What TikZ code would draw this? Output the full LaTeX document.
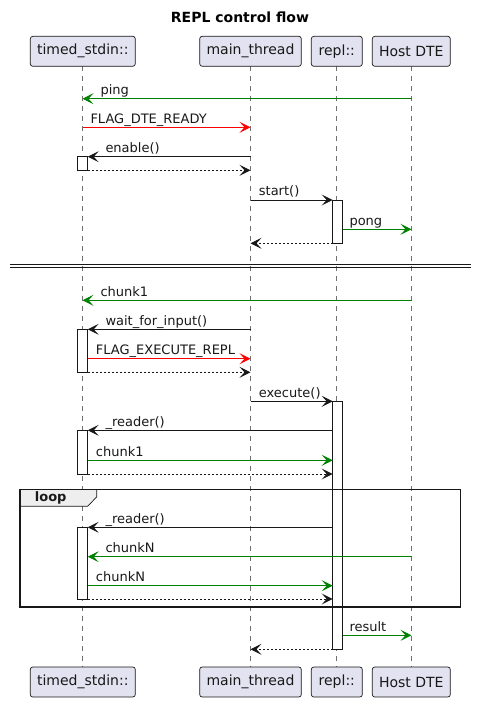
\documentclass[tikz,border=0pt]{standalone}
\usepackage{fontspec}
\setmainfont{DejaVu Sans}
\usetikzlibrary{arrows.meta}
\definecolor{pbox}{HTML}{E2E2F0}
\definecolor{ink}{HTML}{181818}
\definecolor{grn}{HTML}{008000}
\definecolor{rd}{HTML}{FF0000}
\definecolor{life}{HTML}{707070}
\definecolor{tabfill}{HTML}{EEEEEE}
\tikzset{
  participant/.style={draw=ink, fill=pbox, rounded corners=2.5pt, line width=0.7pt,
    minimum height=30pt, inner sep=0pt, font=\fontsize{14}{16}\selectfont, text=ink},
  lifeline/.style={draw=life, line width=0.7pt, dash pattern=on 5pt off 5pt},
  msg/.style={draw=ink, line width=0.9pt, -{Stealth[length=11pt, width=11pt, inset=5pt]}},
  ret/.style={msg, dash pattern=on 2pt off 2pt},
  gmsg/.style={msg, draw=grn, -{Stealth[length=11pt, width=11pt, inset=5pt, fill=grn]}},
  rmsg/.style={msg, draw=rd, -{Stealth[length=11pt, width=11pt, inset=5pt, fill=rd]}},
  lbl/.style={font=\fontsize{13}{15}\selectfont, text=ink, inner sep=0pt, anchor=base west},
  actbox/.style={draw=ink, fill=white, line width=0.8pt},
}
\begin{document}
\begin{tikzpicture}[x=1pt, y=-1pt]
\useasboundingbox (0,0) rectangle (485,714);
\def\xa{82.5}\def\xb{250.5}\def\xc{336.5}\def\xd{411.5}
% title
\node[font=\fontsize{14}{16}\selectfont\bfseries, text=black] (title) at (240,17) {REPL control flow};
% lifelines
\coordinate (la1) at (\xa,66.3); \coordinate (la2) at (\xa,666.7);
\coordinate (lb1) at (\xb,66.3); \coordinate (lb2) at (\xb,666.7);
\coordinate (lc1) at (\xc,66.3); \coordinate (lc2) at (\xc,666.7);
\coordinate (ld1) at (\xd,66.3); \coordinate (ld2) at (\xd,666.7);
\draw[lifeline] (la1) -- (la2);
\draw[lifeline] (lb1) -- (lb2);
\draw[lifeline] (lc1) -- (lc2);
\draw[lifeline] (ld1) -- (ld2);
% participants
\node[participant, minimum width=105pt] (ta) at (82.8,51.3) {timed\_stdin::};
\node[participant, minimum width=101.6pt] (tb) at (250.5,51.3) {main\_thread};
\node[participant, minimum width=51pt] (tc) at (336.8,51.3) {repl::};
\node[participant, minimum width=78pt] (td) at (411.3,51.3) {Host DTE};
\node[participant, minimum width=105pt] (ba) at (82.8,682) {timed\_stdin::};
\node[participant, minimum width=101.6pt] (bb) at (250.5,682) {main\_thread};
\node[participant, minimum width=51pt] (bc) at (336.8,682) {repl::};
\node[participant, minimum width=78pt] (bd) at (411.3,682) {Host DTE};
% activation boxes
\draw[actbox] (77.3,156.7) rectangle (87.7,170.3);
\draw[actbox] (332.7,200) rectangle (342.7,243.3);
\draw[actbox] (77.3,329.3) rectangle (87.7,372.3);
\draw[actbox] (332.7,401.3) rectangle (342.7,649);
\draw[actbox] (77.3,430.3) rectangle (87.7,474);
\draw[actbox] (77.3,527.3) rectangle (87.7,599);
% section 1
\coordinate (m1s) at (\xd,98.7); \coordinate (m1e) at (\xa,98.7);
\draw[gmsg] (m1s) -- (m1e);
\node[lbl] (l1) at (100.3,94.5) {ping};
\coordinate (m2s) at (\xa,127.3); \coordinate (m2e) at (\xb,127.3);
\draw[rmsg] (m2s) -- (m2e);
\node[lbl] (l2) at (90.3,123.3) {FLAG\_DTE\_READY};
\coordinate (m3s) at (\xb,156.7); \coordinate (m3e) at (87.7,156.7);
\draw[msg] (m3s) -- (m3e);
\node[lbl] (l3) at (105.3,152.5) {enable()};
\coordinate (m4s) at (87.7,170.3); \coordinate (m4e) at (\xb,170.3);
\draw[ret] (m4s) -- (m4e);
\coordinate (m5s) at (\xb,200); \coordinate (m5e) at (332.7,200);
\draw[msg] (m5s) -- (m5e);
\node[lbl] (l5) at (258.7,196) {start()};
\coordinate (m6s) at (342.7,229.3); \coordinate (m6e) at (\xd,229.3);
\draw[gmsg] (m6s) -- (m6e);
\node[lbl] (l6) at (349.3,225.3) {pong};
\coordinate (m7s) at (332.7,243.3); \coordinate (m7e) at (\xb,243.3);
\draw[ret] (m7s) -- (m7e);
% divider
\coordinate (d1s) at (10,264.3); \coordinate (d1e) at (471,264.3);
\coordinate (d2s) at (10,267.3); \coordinate (d2e) at (471,267.3);
\draw[ink, line width=0.8pt] (d1s) -- (d1e);
\draw[ink, line width=0.8pt] (d2s) -- (d2e);
% section 2
\coordinate (n1s) at (\xd,300.3); \coordinate (n1e) at (\xa,300.3);
\draw[gmsg] (n1s) -- (n1e);
\node[lbl] (k1) at (100.3,296.2) {chunk1};
\coordinate (n2s) at (\xb,329.3); \coordinate (n2e) at (87.7,329.3);
\draw[msg] (n2s) -- (n2e);
\node[lbl] (k2) at (105.3,325.2) {wait\_for\_input()};
\coordinate (n3s) at (87.7,358.7); \coordinate (n3e) at (\xb,358.7);
\draw[rmsg] (n3s) -- (n3e);
\node[lbl] (k3) at (95.7,354.6) {FLAG\_EXECUTE\_REPL};
\coordinate (n4s) at (87.7,372.3); \coordinate (n4e) at (\xb,372.3);
\draw[ret] (n4s) -- (n4e);
\coordinate (n5s) at (\xb,401.3); \coordinate (n5e) at (332.7,401.3);
\draw[msg] (n5s) -- (n5e);
\node[lbl] (k5) at (258.7,397.2) {execute()};
\coordinate (n6s) at (332.7,430.3); \coordinate (n6e) at (87.7,430.3);
\draw[msg] (n6s) -- (n6e);
\node[lbl] (k6) at (105.3,426.2) {\_reader()};
\coordinate (n7s) at (87.7,460.3); \coordinate (n7e) at (332.7,460.3);
\draw[gmsg] (n7s) -- (n7e);
\node[lbl] (k7) at (95.7,456.2) {chunk1};
\coordinate (n8s) at (87.7,474); \coordinate (n8e) at (332.7,474);
\draw[ret] (n8s) -- (n8e);
% loop frame
\fill[tabfill] (20,489.3) -- (96.7,489.3) -- (96.7,497) -- (87.5,506.3) -- (20,506.3) -- cycle;
\draw[ink, line width=0.7pt] (20,506.3) -- (87.5,506.3) -- (96.7,497) -- (96.7,489.3);
\node[font=\fontsize{13}{15}\selectfont\bfseries, text=ink, inner sep=0pt] (looplbl) at (50.7,497.8) {loop};
\draw[ink, line width=1.5pt] (20,489.3) rectangle (460.7,607);
\coordinate (p1s) at (332.7,527.3); \coordinate (p1e) at (87.7,527.3);
\draw[msg] (p1s) -- (p1e);
\node[lbl] (q1) at (105.3,523.2) {\_reader()};
\coordinate (p2s) at (\xd,556.7); \coordinate (p2e) at (87.7,556.7);
\draw[gmsg] (p2s) -- (p2e);
\node[lbl] (q2) at (105.3,552.6) {chunkN};
\coordinate (p3s) at (87.7,585.7); \coordinate (p3e) at (332.7,585.7);
\draw[gmsg] (p3s) -- (p3e);
\node[lbl] (q3) at (95.7,581.6) {chunkN};
\coordinate (p4s) at (87.7,599); \coordinate (p4e) at (332.7,599);
\draw[ret] (p4s) -- (p4e);
% final
\coordinate (r1s) at (342.7,635.3); \coordinate (r1e) at (\xd,635.3);
\draw[gmsg] (r1s) -- (r1e);
\node[lbl] (s1) at (349.3,631.2) {result};
\coordinate (r2s) at (332.7,649.3); \coordinate (r2e) at (\xb,649.3);
\draw[ret] (r2s) -- (r2e);
\end{tikzpicture}
\end{document}
